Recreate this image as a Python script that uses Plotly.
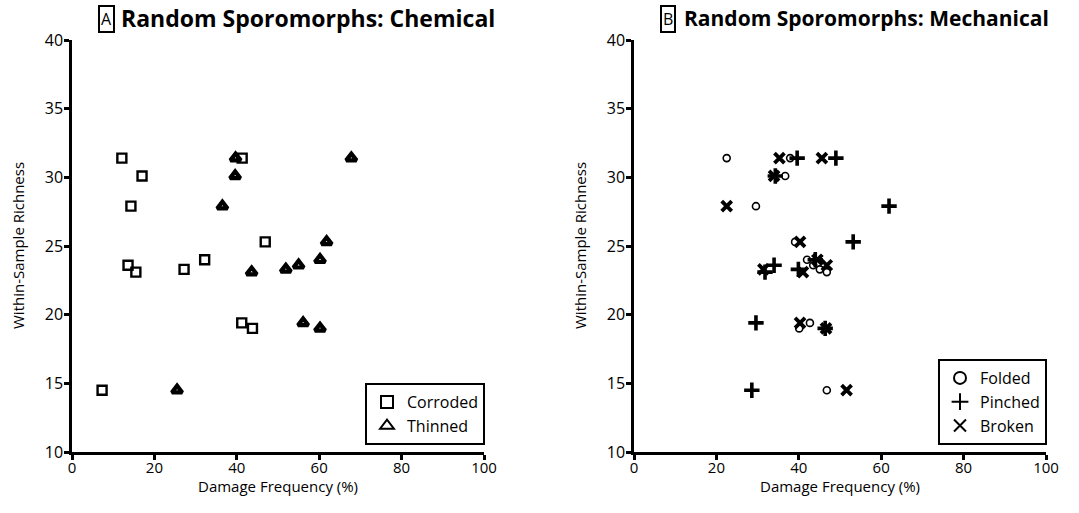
import plotly.graph_objects as go

# Within-sample richness (shared by all series, one per sample)
richness = [31.4, 31.4, 30.1, 27.9, 25.3, 24.0, 23.6, 23.3, 23.1, 19.4, 19.0, 14.5]

# Panel A: chemical damage frequency (%)
corroded = [12.1, 41.3, 17.0, 14.3, 46.9, 32.2, 13.6, 27.2, 15.5, 41.2, 43.8, 7.3]
thinned = [39.7, 67.8, 39.6, 36.5, 61.8, 60.2, 55.0, 51.9, 43.6, 56.1, 60.2, 25.5]

# Panel B: mechanical damage frequency (%)
folded = [22.5, 37.9, 36.7, 29.6, 39.1, 42.0, 43.5, 45.1, 46.8, 42.7, 40.1, 46.8]
pinched = [39.6, 49.0, 34.3, 61.9, 53.2, 44.0, 34.0, 39.9, 31.8, 29.6, 46.4, 28.6]
broken = [35.3, 45.6, 34.0, 22.5, 40.3, 44.5, 46.8, 31.4, 41.0, 40.3, 46.6, 51.6]

x_ticks = [0, 20, 40, 60, 80, 100]
y_ticks = [10, 15, 20, 25, 30, 35, 40]

FONT = "Open Sans"
W, H = 1079, 513
L, T = 72, 40
R = W - 1046
B = H - 452
PW = W - L - R
PH = H - T - B

fig = go.Figure()

fig.add_trace(go.Scatter(x=corroded, y=richness, mode="markers", name="Corroded",
                         marker=dict(symbol="square-open", size=9, color="black", line=dict(width=2.4, color="black")),
                         xaxis="x", yaxis="y", legend="legend"))
fig.add_trace(go.Scatter(x=thinned, y=richness, mode="markers", name="Thinned",
                         marker=dict(symbol="triangle-up-open", size=9, color="black", line=dict(width=4.2, color="black")),
                         xaxis="x", yaxis="y", legend="legend"))
fig.add_trace(go.Scatter(x=folded, y=richness, mode="markers", name="Folded",
                         marker=dict(symbol="circle-open", size=7, color="black", line=dict(width=1.6, color="black")),
                         xaxis="x2", yaxis="y2", legend="legend2"))
fig.add_trace(go.Scatter(x=pinched, y=richness, mode="markers", name="Pinched",
                         marker=dict(symbol="cross-thin", size=11, color="black", line=dict(width=3.6, color="black")),
                         xaxis="x2", yaxis="y2", legend="legend2"))
fig.add_trace(go.Scatter(x=broken, y=richness, mode="markers", name="Broken",
                         marker=dict(symbol="x-thin", size=10, color="black", line=dict(width=3.8, color="black")),
                         xaxis="x2", yaxis="y2", legend="legend2"))

xdA = [0, 412 / PW]
xdB = [(634 - L) / PW, 1]

common_axis = dict(showline=True, linecolor="black", linewidth=2.5, ticks="outside", ticklen=5,
                   tickwidth=2.5, tickcolor="black", showgrid=False, zeroline=False, automargin=False,
                   mirror=False)

def xax(domain, anchor):
    return dict(common_axis, domain=domain, range=[0, 100], tickvals=x_ticks, anchor=anchor,
                tickfont=dict(family=FONT, size=15, color="black"), ticklabelstandoff=-5)

def yax(anchor):
    return dict(common_axis, domain=[0, 1], range=[10, 40], tickvals=y_ticks, anchor=anchor,
                tickfont=dict(family=FONT, size=16, color="black"), ticklabelstandoff=-2)

leg = dict(bgcolor="white", bordercolor="black", borderwidth=2,
           font=dict(family=FONT, size=16, color="black"), xanchor="right", yanchor="bottom",
           tracegroupgap=0, itemsizing="constant", xref="paper", yref="paper")

def px(xp):
    return (xp - L) / PW

def py(yp):
    return (H - B - yp) / PH

fig.update_layout(
    width=W, height=H,
    margin=dict(l=L, r=R, t=T, b=B, autoexpand=False),
    paper_bgcolor="white", plot_bgcolor="white",
    xaxis=xax(xdA, "y"), yaxis=yax("x"),
    xaxis2=xax(xdB, "y2"), yaxis2=yax("x2"),
    showlegend=True,
    legend=dict(leg, x=px(485), y=py(445)),
    legend2=dict(leg, x=px(1047), y=py(445)),
)

tf = dict(family=FONT, size=15, color="black")
annots = [
    dict(x=px(106), y=py(19), text="A", xanchor="center", yanchor="middle",
         font=dict(family=FONT, size=16, color="black"), showarrow=False,
         bordercolor="black", borderwidth=2, borderpad=1, xref="paper", yref="paper"),
    dict(x=px(119), y=py(18), text="<b>Random Sporomorphs: Chemical</b>", xanchor="left", yanchor="middle",
         font=dict(family=FONT, size=23, color="black"), showarrow=False, xref="paper", yref="paper"),
    dict(x=px(668), y=py(19), text="B", xanchor="center", yanchor="middle",
         font=dict(family=FONT, size=16, color="black"), showarrow=False,
         bordercolor="black", borderwidth=2, borderpad=1, xref="paper", yref="paper"),
    dict(x=px(682), y=py(18), text="<b>Random Sporomorphs: Mechanical</b>", xanchor="left", yanchor="middle",
         font=dict(family=FONT, size=21, color="black"), showarrow=False, xref="paper", yref="paper"),
    dict(x=px(278), y=py(486), text="Damage Frequency (%)", xanchor="center", yanchor="middle",
         font=tf, showarrow=False, xref="paper", yref="paper"),
    dict(x=px(840), y=py(486), text="Damage Frequency (%)", xanchor="center", yanchor="middle",
         font=tf, showarrow=False, xref="paper", yref="paper"),
    dict(x=px(18), y=py(246), text="Within-Sample Richness", xanchor="center", yanchor="middle",
         textangle=-90, font=tf, showarrow=False, xref="paper", yref="paper"),
    dict(x=px(580), y=py(246), text="Within-Sample Richness", xanchor="center", yanchor="middle",
         textangle=-90, font=tf, showarrow=False, xref="paper", yref="paper"),
]
fig.update_layout(annotations=annots)

fig.write_html("out.html", post_script="document.body.style.margin='0px';",
               config={"displayModeBar": False})
